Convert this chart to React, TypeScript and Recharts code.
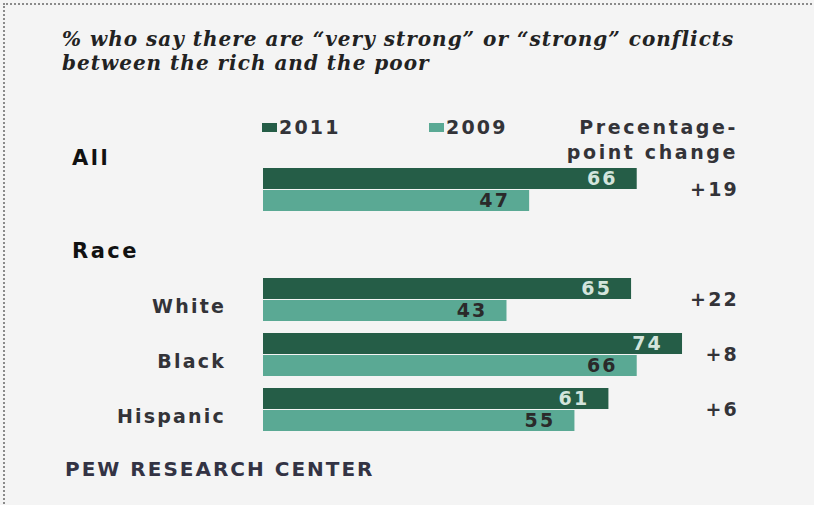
import React from "react";
import { BarChart, Bar, XAxis, YAxis, LabelList } from "recharts";

const groups = ["All", "Race", "White", "Black", "Hispanic"];
const headings = ["All", "Race"];
const values2011 = [66, null, 65, 74, 61];
const values2009 = [47, null, 43, 66, 55];
const changes = ["+19", "", "+22", "+8", "+6"];
const seriesNames = ["2011", "2009"];

const DARK = "#255d47";
const TEAL = "#5aa994";
const TEXT = "#333338";
const SANS = "'DejaVu Sans', Verdana, sans-serif";

const data = groups.map((g, i) => ({
  group: g,
  y2011: values2011[i],
  y2009: values2009[i],
  change: changes[i],
}));

const labelStyle = {
  fontFamily: SANS,
  fontSize: 19,
  fontWeight: 700,
  letterSpacing: 2.2,
};

function GroupTick(props: any) {
  const { x, y, payload } = props;
  const name = payload.value as string;
  if (headings.includes(name)) {
    const dy = name === "All" ? -32 : 6;
    return (
      <text x={72} y={y + dy} dy="0.35em" textAnchor="start" fill="#111" style={{ ...labelStyle, fontSize: 21, letterSpacing: 2.5 }}>
        {name}
      </text>
    );
  }
  return (
    <text x={x - 29} y={y + 7} dy="0.35em" textAnchor="end" fill={TEXT} style={labelStyle}>
      {name}
    </text>
  );
}

function ChangeTick(props: any) {
  const { x, y, payload } = props;
  const txt = changes[payload.index] ?? "";
  return (
    <text x={x + 15} y={y} dy="0.35em" textAnchor="end" fill={TEXT} style={labelStyle}>
      {txt}
    </text>
  );
}

export default function App() {
  return (
    <div
      style={{
        position: "absolute",
        left: 0,
        top: 0,
        width: 814,
        height: 505,
        background: "#f4f4f4",
        overflow: "hidden",
      }}
    >
      <div
        style={{
          position: "absolute",
          left: 3,
          top: 3,
          width: 811,
          height: 502,
          borderTop: "2px dotted #8a8a8a",
          borderLeft: "2px dotted #8a8a8a",
        }}
      />
      <div
        style={{
          position: "absolute",
          left: 62,
          top: 27,
          fontFamily: "'DejaVu Serif', Georgia, serif",
          fontStyle: "italic",
          fontWeight: 700,
          fontSize: 20,
          letterSpacing: 1,
          lineHeight: "24px",
          color: "#222",
        }}
      >
        % who say there are “very strong” or “strong” conflicts
        <br />
        between the rich and the poor
      </div>

      <div
        style={{
          position: "absolute",
          left: 262,
          top: 116,
          display: "flex",
          ...labelStyle,
          color: TEXT,
        }}
      >
        {seriesNames.map((n, i) => (
          <div key={n} style={{ display: "flex", alignItems: "center", width: 167 }}>
            <span
              style={{
                display: "inline-block",
                width: 15,
                height: 9,
                background: i === 0 ? DARK : TEAL,
                marginRight: 2,
              }}
            />
            {n}
          </div>
        ))}
      </div>

      <div
        style={{
          position: "absolute",
          right: 76,
          top: 115,
          textAlign: "right",
          ...labelStyle,
          letterSpacing: 2.6,
          lineHeight: "25px",
          color: TEXT,
        }}
      >
        Precentage-
        <br />
        point change
      </div>

      <div style={{ position: "absolute", left: 0, top: 0 }}>
        <BarChart
          layout="vertical"
          width={814}
          height={505}
          data={data}
          margin={{ top: 162, right: 18, bottom: 68, left: 63 }}
          barSize={21}
          barGap={1}
        >
          <XAxis type="number" domain={[0, 80]} hide />
          <YAxis
            yAxisId="left"
            type="category"
            dataKey="group"
            width={200}
            axisLine={false}
            tickLine={false}
            tick={<GroupTick />}
          />
          <YAxis
            yAxisId="right"
            orientation="right"
            type="category"
            dataKey="group"
            width={80}
            axisLine={false}
            tickLine={false}
            tick={<ChangeTick />}
          />
          <Bar yAxisId="left" dataKey="y2011" name="2011" fill={DARK} isAnimationActive={false}>
            <LabelList dataKey="y2011" position="insideRight" offset={19} fill="#d3e4dc" style={labelStyle} />
          </Bar>
          <Bar yAxisId="left" dataKey="y2009" name="2009" fill={TEAL} isAnimationActive={false}>
            <LabelList dataKey="y2009" position="insideRight" offset={19} fill="#2a2a2a" style={labelStyle} />
          </Bar>
        </BarChart>
      </div>

      <div
        style={{
          position: "absolute",
          left: 65,
          top: 457,
          ...labelStyle,
          fontSize: 20,
          letterSpacing: 2,
          color: "#333344",
        }}
      >
        PEW RESEARCH CENTER
      </div>
    </div>
  );
}
